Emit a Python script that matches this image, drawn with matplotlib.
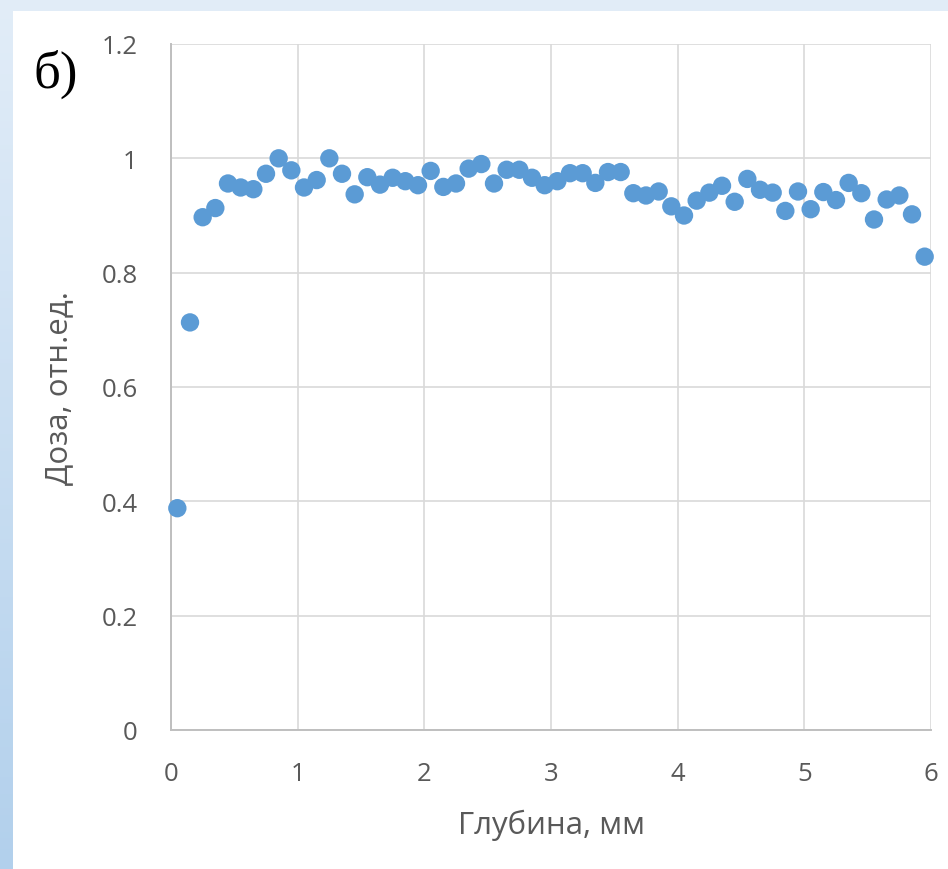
import numpy as np
import matplotlib
matplotlib.use("Agg")
import matplotlib.pyplot as plt
from matplotlib.colors import LinearSegmentedColormap

# Data
depth = [0.05, 0.15, 0.25, 0.35, 0.45, 0.55, 0.65, 0.75, 0.85, 0.95,
         1.05, 1.15, 1.25, 1.35, 1.45, 1.55, 1.65, 1.75, 1.85, 1.95,
         2.05, 2.15, 2.25, 2.35, 2.45, 2.55, 2.65, 2.75, 2.85, 2.95,
         3.05, 3.15, 3.25, 3.35, 3.45, 3.55, 3.65, 3.75, 3.85, 3.95,
         4.05, 4.15, 4.25, 4.35, 4.45, 4.55, 4.65, 4.75, 4.85, 4.95,
         5.05, 5.15, 5.25, 5.35, 5.45, 5.55, 5.65, 5.75, 5.85, 5.95]
dose = [0.388, 0.713, 0.897, 0.913, 0.956, 0.949, 0.946, 0.973, 1.000, 0.979,
        0.949, 0.962, 1.000, 0.973, 0.937, 0.967, 0.954, 0.966, 0.960, 0.953,
        0.978, 0.950, 0.956, 0.982, 0.990, 0.956, 0.980, 0.980, 0.966, 0.953,
        0.960, 0.974, 0.974, 0.957, 0.976, 0.976, 0.939, 0.935, 0.942, 0.916,
        0.900, 0.926, 0.940, 0.952, 0.924, 0.964, 0.945, 0.940, 0.908, 0.942,
        0.911, 0.941, 0.927, 0.957, 0.939, 0.893, 0.928, 0.935, 0.902, 0.828]
x_ticks = [0, 1, 2, 3, 4, 5, 6]
y_ticks = [0, 0.2, 0.4, 0.6, 0.8, 1.0, 1.2]
y_tick_labels = ["0", "0.2", "0.4", "0.6", "0.8", "1", "1.2"]
x_label = "Глубина, мм"
y_label = "Доза, отн.ед."
panel_label = "б)"

W, H = 948, 870
fig = plt.figure(figsize=(W / 100, H / 100), dpi=100)
fig.patch.set_facecolor("white")

# Background frame (light blue bands on top and left)
bg = fig.add_axes([0, 0, 1, 1], zorder=-10)
bg.add_patch(plt.Rectangle((0, 0), W, 12, color="#E1ECF7", lw=0))
cmap = LinearSegmentedColormap.from_list("lb", ["#E2EDF8", "#B2D0EC"])
grad = np.linspace(0, 1, 256).reshape(-1, 1)
bg.imshow(grad, cmap=cmap, extent=(0, 13, H, 0), aspect="auto")
bg.set_xlim(0, W)
bg.set_ylim(H, 0)
bg.axis("off")

ax = fig.add_axes([171 / W, (H - 731) / H, (931 - 171) / W, (731 - 45) / H])
ax.set_facecolor("white")
ax.scatter(depth, dose, s=175, color="#5B9BD5", edgecolors="none", zorder=3,
           clip_on=False)
ax.set_xlim(0, 6)
ax.set_ylim(0, 1.2)
ax.set_xticks(x_ticks)
ax.set_yticks(y_ticks)
ax.set_yticklabels(y_tick_labels)
ax.grid(True, color="#D9D9D9", lw=1.2, zorder=0)
ax.set_axisbelow(True)
for s in ["top", "right"]:
    ax.spines[s].set_visible(False)
for s in ["left", "bottom"]:
    ax.spines[s].set_color("#BFBFBF")
    ax.spines[s].set_linewidth(1.4)
ax.tick_params(length=0, labelsize=18.5, labelcolor="#595959")
ax.tick_params(axis="y", pad=24)
ax.tick_params(axis="x", pad=22)
for lab in ax.get_xticklabels() + ax.get_yticklabels():
    lab.set_fontfamily("Open Sans")
ax.set_xlabel(x_label, fontsize=22.5, color="#595959", family="Open Sans", labelpad=17)
ax.set_ylabel(y_label, fontsize=22.5, color="#595959", family="Open Sans", labelpad=20)

fig.text(33 / W, 1 - 88 / H, panel_label, fontsize=38, family="Liberation Serif",
         color="black", ha="left", va="baseline")

fig.savefig("out.png", dpi=100)
